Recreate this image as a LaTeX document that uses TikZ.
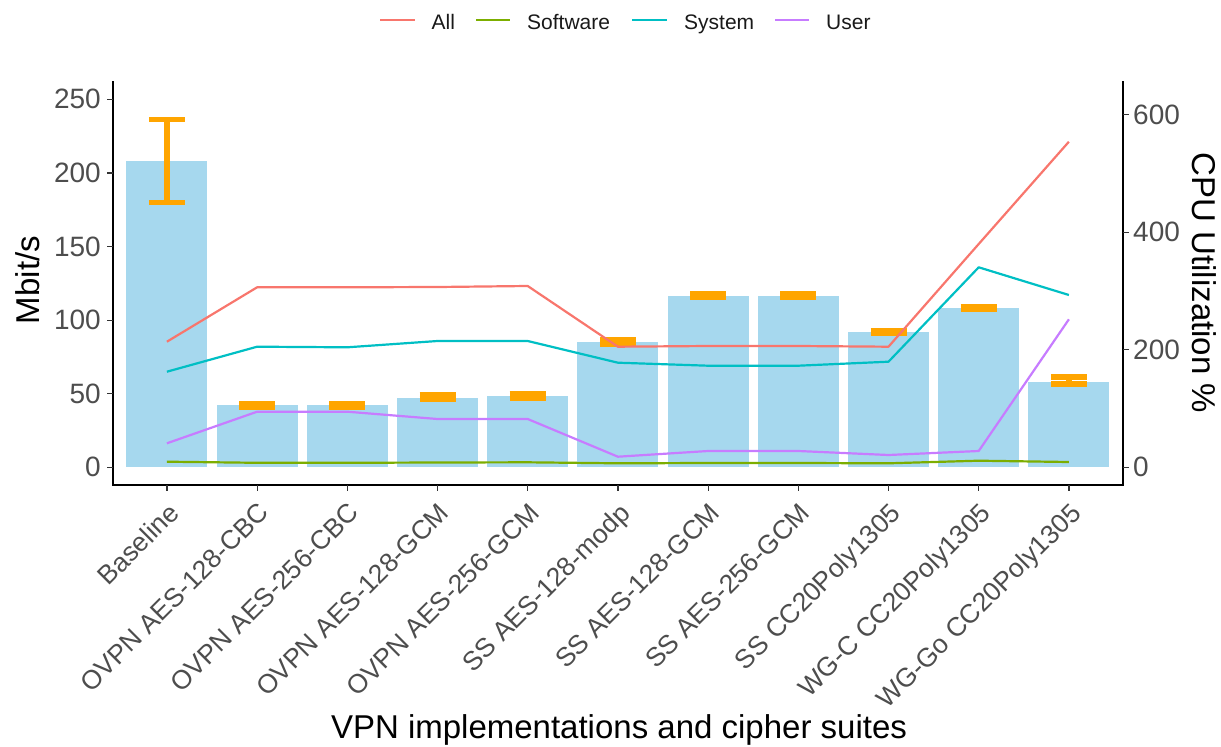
\documentclass[tikz,border=0pt]{standalone}
\usepackage{fontspec}
\setmainfont{Liberation Sans}
\definecolor{barblue}{RGB}{166,216,238}
\definecolor{errorange}{RGB}{255,165,0}
\definecolor{cAll}{HTML}{F8766D}
\definecolor{cSoft}{HTML}{7CAE00}
\definecolor{cSys}{HTML}{00BFC4}
\definecolor{cUser}{HTML}{C77CFF}
\definecolor{ticktext}{HTML}{4D4D4D}
\begin{document}
\begin{tikzpicture}[x=1pt,y=-1pt,
  bar/.style={fill=barblue},
  errbar/.style={draw=errorange,line width=5.5pt},
  series/.style={line width=2.2pt,line join=round},
  axisline/.style={draw=black,line width=1.6pt},
  tickmark/.style={draw=black!80,line width=1.2pt},
  ticklab/.style={text=ticktext,font=\fontsize{28}{30}\selectfont,inner sep=0pt},
  xlab/.style={text=ticktext,font=\fontsize{26.5}{28}\selectfont,inner sep=0pt,rotate=45,anchor=north east},
  axtitle/.style={text=black,font=\fontsize{33}{35}\selectfont,inner sep=0pt},
  legtext/.style={text=black!90,font=\fontsize{21}{23}\selectfont,inner sep=0pt,anchor=base west},
  legkey/.style={line width=2.2pt}]
\useasboundingbox (0,0) rectangle (1221,747);
% bars
\foreach \i/\t in {0/161,1/405,2/405,3/398,4/396,5/342,6/296,7/296,8/332,9/308,10/382}{
  \fill[bar] ({166.9+90.2*\i-40.5},467.3) rectangle ({166.9+90.2*\i+40.5},\t);
}
% error bars
\foreach \i/\lo/\hi in {0/202.3/119.3,1/407.5/404.2,2/407.5/404.2,3/399.2/395.2,4/398.5/394.2,5/344.2/340.2,6/297.5/294.2,7/297.5/294.2,8/333.5/330.8,9/309.2/306.8,10/384.2/376.8}{
  \draw[errbar] ({166.9+90.2*\i-18},\lo) -- ({166.9+90.2*\i+18},\lo)
                ({166.9+90.2*\i},\lo) -- ({166.9+90.2*\i},\hi)
                ({166.9+90.2*\i-18},\hi) -- ({166.9+90.2*\i+18},\hi);
}
% series lines
\draw[series,cSoft] plot coordinates {(166.9,461.7) (257.1,462.8) (347.3,462.8) (437.5,462.5) (527.7,462.3) (617.9,463.3) (708.1,463) (798.3,463) (888.5,463.3) (978.7,460.7) (1068.9,462)};
\draw[series,cUser] plot coordinates {(166.9,443.3) (257.1,411.7) (347.3,411.7) (437.5,419) (527.7,419) (617.9,456.7) (708.1,451) (798.3,451) (888.5,455) (978.7,451) (1068.9,319.3)};
\draw[series,cSys] plot coordinates {(166.9,371.7) (257.1,346.7) (347.3,347.3) (437.5,341) (527.7,341) (617.9,362.7) (708.1,365.7) (798.3,365.7) (888.5,361.7) (978.7,267.3) (1068.9,295)};
\draw[series,cAll] plot coordinates {(166.9,341.7) (257.1,287.3) (347.3,287.3) (437.5,287) (527.7,286) (617.9,346.7) (708.1,346) (798.3,346) (888.5,346.7) (978.7,244) (1068.9,141.7)};
% axes
\draw[axisline,line cap=rect] (113,82) -- (113,485) -- (1123,485) -- (1123,82);
% left ticks
\foreach \v in {0,50,...,250}{
  \draw[tickmark] (107,{467.3-1.472*\v}) -- (113,{467.3-1.472*\v});
  \node[ticklab,anchor=east] (ly\v) at (101,{467.3-1.472*\v}) {\v};
}
% right ticks
\foreach \v in {0,200,400,600}{
  \draw[tickmark] (1123,{467.3-0.5875*\v}) -- (1129,{467.3-0.5875*\v});
  \node[ticklab,anchor=west] (ry\v) at (1133,{467.3-0.5875*\v}) {\v};
}
% x ticks and labels
\foreach \i/\lab in {0/Baseline,1/OVPN AES-128-CBC,2/OVPN AES-256-CBC,3/OVPN AES-128-GCM,4/OVPN AES-256-GCM,5/SS AES-128-modp,6/SS AES-128-GCM,7/SS AES-256-GCM,8/SS CC20Poly1305,9/WG-C CC20Poly1305,10/WG-Go CC20Poly1305}{
  \draw[tickmark] ({166.9+90.2*\i},485) -- ({166.9+90.2*\i},491);
  \node[xlab] (xl\i) at ({166.9+90.2*\i},501) {\lab};
}
% axis titles
\node[axtitle,rotate=90] (ytitle) at (28,280) {Mbit/s};
\node[axtitle,rotate=-90] (y2title) at (1204,283) {CPU Utilization \%};
\node[axtitle] (xtitle) at (619,730) {VPN implementations and cipher suites};
% legend
\draw[legkey,cAll] (380,20) -- (415,20);
\node[legtext] (lAll) at (431.5,29) {All};
\draw[legkey,cSoft] (476,20) -- (510,20);
\node[legtext] (lSoft) at (527,29) {Software};
\draw[legkey,cSys] (632,20) -- (667,20);
\node[legtext] (lSys) at (684,29) {System};
\draw[legkey,cUser] (775,20) -- (809,20);
\node[legtext] (lUser) at (826,29) {User};
\end{tikzpicture}
\end{document}
